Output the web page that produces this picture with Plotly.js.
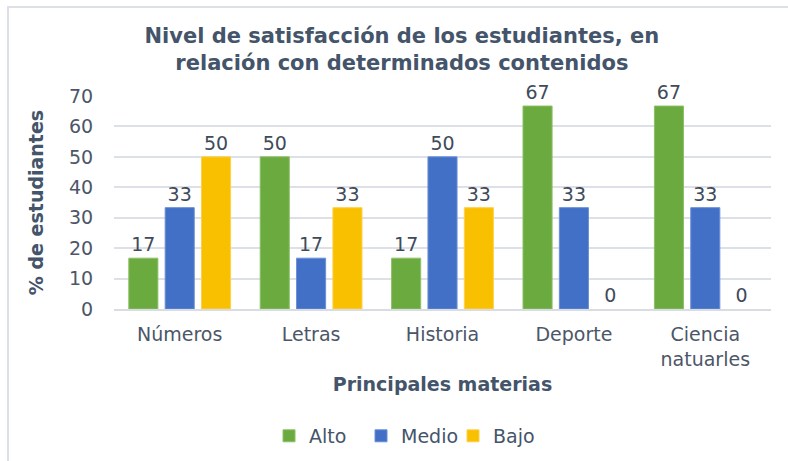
<!DOCTYPE html>
<html>
<head>
<meta charset="utf-8">
<script src="https://cdn.plot.ly/plotly-3.0.1.min.js"></script>
<style>
  html, body { margin: 0; padding: 0; background: #fff; }
  #wrap { position: relative; width: 788px; height: 461px; }
  #chart { width: 788px; height: 461px; }
  #frame { position: absolute; left: 7px; top: 6px; width: 781px; height: 455px;
           border-top: 2px solid #DCE1E7; border-left: 2px solid #DCE1E7; pointer-events: none; }
</style>
</head>
<body>
<div id="wrap">
  <div id="chart"></div>
  <div id="frame"></div>
</div>
<script>
const categories = ['Números', 'Letras', 'Historia', 'Deporte', 'Ciencia<br>natuarles'];
const alto  = [16.7, 50, 16.7, 66.7, 66.7];
const medio = [33.3, 16.7, 50, 33.3, 33.3];
const bajo  = [50, 33.3, 33.3, 0, 0];
const seriesNames = ['Alto', 'Medio', 'Bajo'];
const yTicks = [0, 10, 20, 30, 40, 50, 60, 70];

const FONT = 'DejaVu Sans, Verdana, sans-serif';
const TXT = '#44546A';
const TICK = '#4C5668';
const colors = ['#6BAA3F', '#4170C6', '#F9C000'];
const lines  = ['#8CC068', '#6A8FD6', '#FFD04D'];

const data = [alto, medio, bajo].map((vals, i) => ({
  type: 'bar',
  name: seriesNames[i],
  x: categories,
  y: vals,
  texttemplate: '%{y:.0f}',
  textposition: 'outside',
  cliponaxis: false,
  textfont: { family: FONT, size: 19, color: '#404B5A' },
  marker: { color: colors[i], line: { color: lines[i], width: vals.map(v => v > 0 ? 1 : 0) } },
  hoverinfo: 'none'
}));

const layout = {
  width: 788, height: 461,
  margin: { l: 114, r: 17, t: 96, b: 152, autoexpand: false },
  paper_bgcolor: '#fff', plot_bgcolor: '#fff',
  font: { family: FONT, color: TXT },
  title: {
    text: '<b>Nivel de satisfacción de los estudiantes, en<br>relación con determinados contenidos</b>',
    font: { family: FONT, size: 21, color: TXT },
    x: 0.51, xanchor: 'center', yref: 'container', y: 1 - 43 / 461, yanchor: 'top'
  },
  barmode: 'group',
  bargap: 0.17,
  bargroupgap: 0.2,
  showlegend: true,
  legend: {
    orientation: 'h', x: 0.446, xanchor: 'center', y: -0.596, yanchor: 'middle',
    font: { family: FONT, size: 19, color: TXT }, itemwidth: 30, traceorder: 'normal',
    entrywidth: 47
  },
  xaxis: {
    tickfont: { family: FONT, size: 19, color: TICK },
    showline: true, linecolor: '#D9DDE3', linewidth: 2,
    ticks: 'outside', ticklen: 7, tickcolor: 'rgba(0,0,0,0)',
    title: { text: '<b>Principales materias</b>', font: { family: FONT, size: 19, color: TXT }, standoff: 9 }
  },
  yaxis: {
    range: [0, 70],
    tickvals: yTicks,
    tickfont: { family: FONT, size: 19, color: TICK },
    showgrid: true, gridcolor: '#DDE1E7', gridwidth: 2,
    zeroline: false,
    ticks: 'outside', ticklen: 16, tickcolor: 'rgba(0,0,0,0)',
    title: { text: '<b>% de estudiantes</b>', font: { family: FONT, size: 19, color: TXT }, standoff: 20 }
  }
};

Plotly.newPlot('chart', data, layout, { displayModeBar: false, staticPlot: true });
</script>
</body>
</html>
